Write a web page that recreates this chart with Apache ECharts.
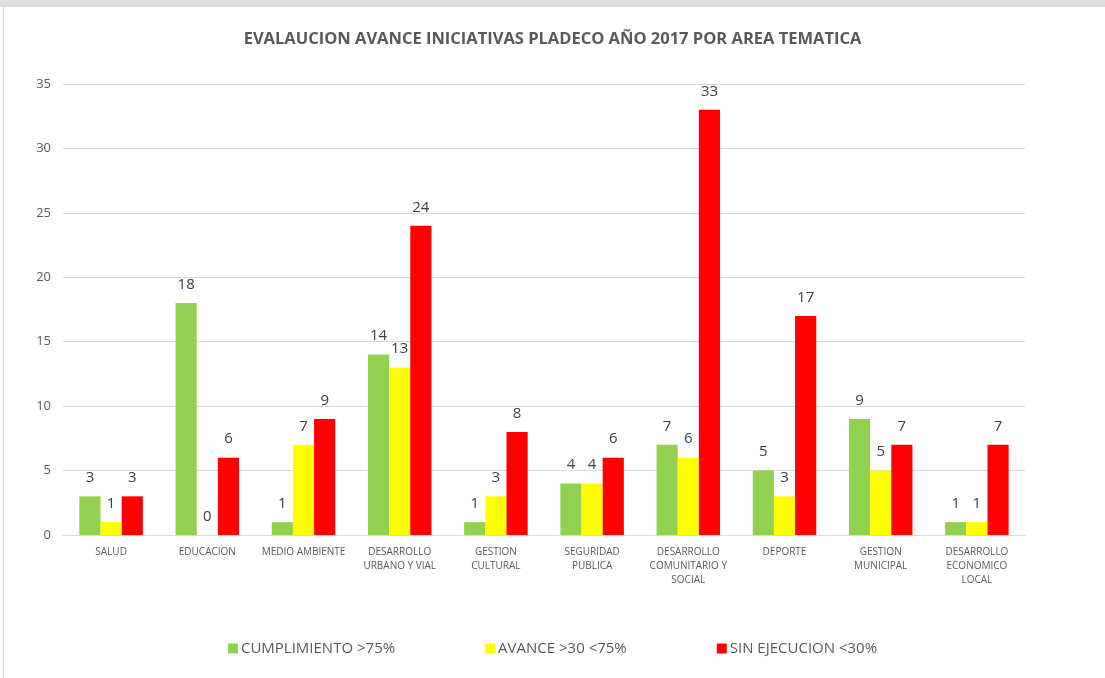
<!DOCTYPE html>
<html>
<head>
<meta charset="utf-8">
<script src="https://cdn.jsdelivr.net/npm/echarts@6/dist/echarts.min.js"></script>
<style>
  html, body { margin: 0; padding: 0; background: #fff; }
  #band { position: absolute; left: 0; top: 0; width: 1105px; height: 7px; background: #dedede; }
  #frame { position: absolute; left: 3px; top: 7px; width: 1102px; height: 671px; border-left: 1px solid #d9d9d9; box-sizing: border-box; }
  #chart { position: absolute; left: 0; top: 0; width: 1105px; height: 678px; }
</style>
</head>
<body>
<div id="band"></div>
<div id="frame"></div>
<div id="chart"></div>
<script>
  const categories = [
    'SALUD', 'EDUCACION', 'MEDIO AMBIENTE', 'DESARROLLO\nURBANO Y VIAL', 'GESTION\nCULTURAL',
    'SEGURIDAD\nPUBLICA', 'DESARROLLO\nCOMUNITARIO Y\nSOCIAL', 'DEPORTE', 'GESTION\nMUNICIPAL',
    'DESARROLLO\nECONOMICO\nLOCAL'
  ];
  const cumplimiento = [3, 18, 1, 14, 1, 4, 7, 5, 9, 1];
  const avance = [1, 0, 7, 13, 3, 4, 6, 3, 5, 1];
  const sinEjecucion = [3, 6, 9, 24, 8, 6, 33, 17, 7, 7];
  const seriesNames = ['CUMPLIMIENTO >75%', 'AVANCE >30 <75%', 'SIN EJECUCION <30%'];
  const colors = ['#92d050', '#ffff00', '#ff0000'];

  const chart = echarts.init(document.getElementById('chart'));

  const label = {
    show: true,
    position: 'top',
    distance: 11,
    color: '#404040',
    fontSize: 15,
    fontFamily: 'Open Sans'
  };

  chart.setOption({
    textStyle: { fontFamily: 'Open Sans' },
    title: {
      text: 'EVALAUCION AVANCE INICIATIVAS PLADECO AÑO 2017 POR AREA TEMATICA',
      left: 'center',
      top: 26,
      textStyle: { fontSize: 16.5, fontWeight: 'bold', color: '#595959' }
    },
    legend: {
      bottom: 17,
      left: 'center',
      itemGap: 90,
      itemWidth: 10,
      itemHeight: 10,
      icon: 'rect',
      textStyle: { fontSize: 15, color: '#595959', padding: [0, 0, 0, -2] },
      data: seriesNames
    },
    grid: { left: 63, right: 80, top: 84, bottom: 143, containLabel: false },
    xAxis: {
      type: 'category',
      data: categories,
      axisLine: { lineStyle: { color: '#d9d9d9', width: 1 } },
      axisTick: { show: false },
      axisLabel: { color: '#595959', fontSize: 10, interval: 0, margin: 10, lineHeight: 14 }
    },
    yAxis: {
      type: 'value',
      min: 0,
      max: 35,
      interval: 5,
      axisLine: { show: false },
      axisTick: { show: false },
      axisLabel: { color: '#595959', fontSize: 13, margin: 12 },
      splitLine: { lineStyle: { color: '#d9d9d9' } }
    },
    series: [
      { name: seriesNames[0], type: 'bar', data: cumplimiento, itemStyle: { color: colors[0] }, label: label, barGap: '0%', barCategoryGap: '34%' },
      { name: seriesNames[1], type: 'bar', data: avance, itemStyle: { color: colors[1] }, label: label },
      { name: seriesNames[2], type: 'bar', data: sinEjecucion, itemStyle: { color: colors[2] }, label: label }
    ]
  });
</script>
</body>
</html>
